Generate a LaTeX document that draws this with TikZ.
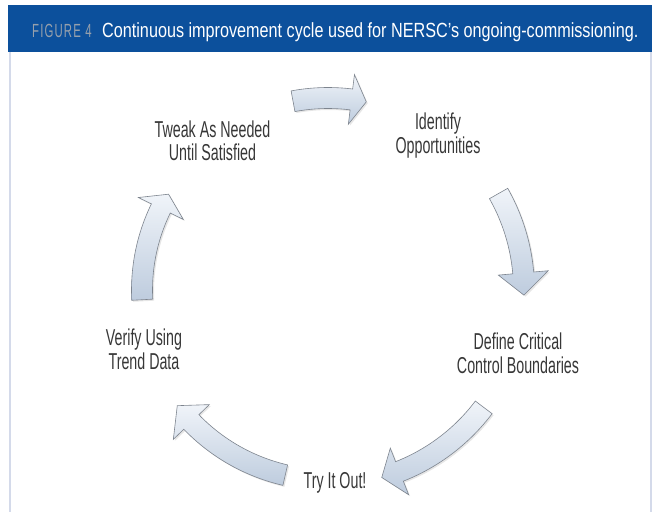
\documentclass[tikz,border=0pt]{standalone}
\usepackage{fontspec}
\setmainfont{Liberation Sans}
\newfontfamily\labelfont[FakeStretch=0.62]{Liberation Sans}
\newfontfamily\titlefont[FakeStretch=0.79]{Liberation Sans}
\newfontfamily\fignumfont[FakeStretch=0.6, LetterSpace=6]{Liberation Sans}
\usetikzlibrary{shadows}
\definecolor{bandblue}{RGB}{12, 80, 156}
\definecolor{rulegray}{RGB}{212, 218, 234}
\definecolor{fignumgray}{RGB}{150, 160, 172}
\definecolor{labelgray}{RGB}{55, 55, 55}
\definecolor{arrowtop}{RGB}{240, 244, 249}
\definecolor{arrowbot}{RGB}{190, 204, 222}
\definecolor{arrowedge}{RGB}{125, 132, 142}
\newcommand{\arrbody}{10.5}
\newcommand{\arrhead}{25}
\tikzset{
  band/.style      = {fill=bandblue},
  sideline/.style  = {draw=rulegray, line width=2pt},
  titletext/.style = {anchor=base west, inner sep=0pt, font=\titlefont\fontsize{20.5}{22}\selectfont, text=white},
  fignum/.style    = {anchor=base west, inner sep=0pt, font=\fignumfont\fontsize{19}{20}\selectfont, text=fignumgray},
  lbl/.style       = {inner sep=0pt, align=center, font=\labelfont\fontsize{23}{23.5}\selectfont, text=labelgray},
  cycarrow/.style  = {draw=arrowedge, line width=0.6pt, top color=arrowtop, bottom color=arrowbot,
                      drop shadow={shadow xshift=1.5pt, shadow yshift=-1.5pt, opacity=0.2}},
}
\begin{document}
\begin{tikzpicture}[x=1pt, y=-1pt]
\useasboundingbox (0,0) rectangle (654,512);

% header band
\fill[band] (8,5) rectangle (651.5,52);
\node[fignum] (fignum) at (32,37.5) {FIGURE 4};
\node[titletext] (title) at (102,37.5) {Continuous improvement cycle used for NERSC’s ongoing-commissioning.};

% panel side rules
\draw[sideline] (10,52) -- (10,512);
\draw[sideline] (651,52) -- (651,512);

% cycle steps
\node[lbl] (ident)  at (438,135.5) {Identify\\Opportunities};
\node[lbl] (define) at (518,353.5) {Define Critical\\Control Boundaries};
\node[lbl] (tryout) at (335,483.3) {Try It Out!};
\node[lbl] (verify) at (144,349.5) {Verify Using\\Trend Data};
\node[lbl] (tweak)  at (212.5,141) {Tweak As Needed\\Until Satisfied};

% curved block arrows: centre x/y, radius, tail angle, head base angle, tip angle
\foreach \cx/\cy/\rr/\aa/\ab/\at in {328/290/192/-100.5/-83/-78.5,
                                     328/290/196/-29.5/-5/1.5,
                                     328/290/195/37/68.5/74,
                                     328/290/190/103/136/142.5,
                                     328/290/186/177/206/211}
  \draw[cycarrow]
    plot[domain=0:1, samples=25] ({\cx+(\rr+\arrbody)*cos(\aa+(\ab-\aa)*\x)}, {\cy+(\rr+\arrbody)*sin(\aa+(\ab-\aa)*\x)})
    -- ({\cx+(\rr+\arrhead)*cos(\ab)}, {\cy+(\rr+\arrhead)*sin(\ab)})
    -- ({\cx+\rr*cos(\at)}, {\cy+\rr*sin(\at)})
    -- ({\cx+(\rr-\arrhead)*cos(\ab)}, {\cy+(\rr-\arrhead)*sin(\ab)})
    -- plot[domain=0:1, samples=25] ({\cx+(\rr-\arrbody)*cos(\ab+(\aa-\ab)*\x)}, {\cy+(\rr-\arrbody)*sin(\ab+(\aa-\ab)*\x)})
    -- cycle;

\end{tikzpicture}
\end{document}
